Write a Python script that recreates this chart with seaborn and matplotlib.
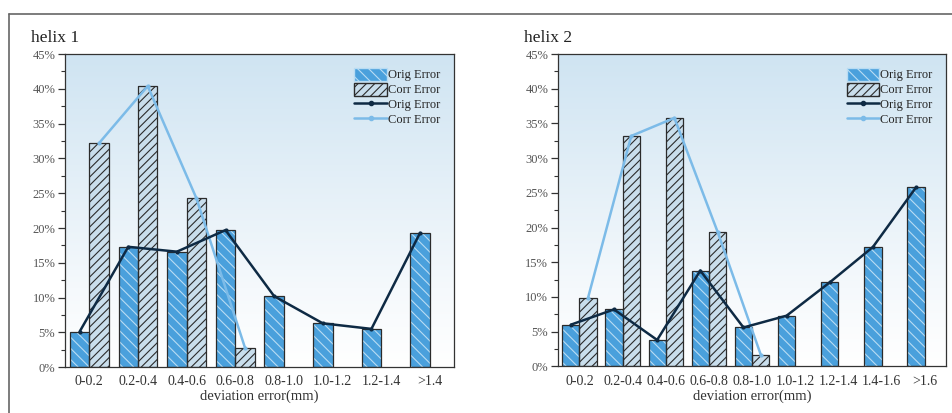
import numpy as np
import pandas as pd
import matplotlib
matplotlib.use("Agg")
import matplotlib.pyplot as plt
import seaborn as sns
from matplotlib.patches import Patch, Rectangle
from matplotlib.lines import Line2D
from matplotlib.ticker import MultipleLocator, PercentFormatter

# data (percent)
cats1 = ["0-0.2", "0.2-0.4", "0.4-0.6", "0.6-0.8", "0.8-1.0", "1.0-1.2", "1.2-1.4", ">1.4"]
orig1 = [5.1, 17.3, 16.6, 19.7, 10.2, 6.3, 5.5, 19.3]
corr1 = [32.2, 40.4, 24.3, 2.8, np.nan, np.nan, np.nan, np.nan]

cats2 = ["0-0.2", "0.2-0.4", "0.4-0.6", "0.6-0.8", "0.8-1.0", "1.0-1.2", "1.2-1.4", "1.4-1.6", ">1.6"]
orig2 = [6.0, 8.2, 3.8, 13.8, 5.6, 7.3, 12.1, 17.2, 25.8]
corr2 = [9.9, 33.2, 35.8, 19.4, 1.7, np.nan, np.nan, np.nan, np.nan]

titles = ["helix 1", "helix 2"]

sns.set_theme(style="white")
plt.rcParams["font.family"] = ["Liberation Serif", "DejaVu Serif"]
plt.rcParams["hatch.linewidth"] = 0.8

ORIG_FACE = "#4aa0dc"
ORIG_HATCH = "#b9dcf3"
CORR_FACE = "#c9deec"
EDGE = "#2b2b2b"
ORIG_LINE = "#0e2a44"
CORR_LINE = "#7cbbe8"

fig = plt.figure(figsize=(9.52, 4.13), dpi=100)
ax1 = fig.add_axes([0.0683, 0.111, 0.4087, 0.758])
ax2 = fig.add_axes([0.586, 0.113, 0.408, 0.756])

# gradient backdrop
grad = np.linspace(1, 0, 256).reshape(-1, 1)
cmap = matplotlib.colors.LinearSegmentedColormap.from_list(
    "bg", [(0, "#ffffff"), (0.25, "#f5f9fc"), (1, "#cfe4f2")])


def draw(ax, cats, orig, corr, title):
    df = pd.DataFrame({
        "cat": cats * 2,
        "val": orig + corr,
        "kind": ["Orig Error"] * len(cats) + ["Corr Error"] * len(cats),
    })
    ax.imshow(grad, cmap=cmap, aspect="auto", extent=[0, 1, 0, 1],
              transform=ax.transAxes, zorder=0)
    sns.barplot(data=df, x="cat", y="val", hue="kind", order=cats,
                hue_order=["Orig Error", "Corr Error"], width=0.8,
                ax=ax, legend=False, zorder=2)
    for cont, face, hatch, hc in zip(ax.containers,
                                     [ORIG_FACE, CORR_FACE],
                                     ["\\\\\\", "////"],
                                     [ORIG_HATCH, EDGE]):
        for p in cont:
            p.set_facecolor(face)
            p.set_hatch(hatch)
            p.set_edgecolor(hc)
            p.set_linewidth(0)
            ax.add_patch(Rectangle((p.get_x(), p.get_y()), p.get_width(),
                                   p.get_height(), fill=False, edgecolor=EDGE,
                                   linewidth=0.9, zorder=3))
    idx = np.arange(len(cats))
    sns.lineplot(x=idx - 0.2, y=orig, ax=ax, color=ORIG_LINE, lw=1.8,
                 marker="o", markersize=3, markeredgewidth=0, zorder=5)
    sns.lineplot(x=idx + 0.2, y=corr, ax=ax, color=CORR_LINE, lw=1.8,
                 marker="o", markersize=3, markeredgewidth=0, zorder=4)

    ax.set_xlim(-0.5, len(cats) - 0.5)
    ax.set_ylim(0, 45)
    ax.yaxis.set_major_locator(MultipleLocator(5))
    ax.yaxis.set_minor_locator(MultipleLocator(2.5))
    ax.yaxis.set_major_formatter(PercentFormatter(decimals=0))
    ax.tick_params(axis="y", which="major", length=5, width=0.9, color="#333333",
                   labelsize=9, labelcolor="#555555", left=True, pad=2)
    ax.tick_params(axis="y", which="minor", length=3, width=0.8, color="#333333", left=True)
    ax.tick_params(axis="x", length=0, labelsize=10, labelcolor="#333333", pad=6)
    ax.set_xlabel("deviation error(mm)", fontsize=10.5, color="#333333", labelpad=1)
    ax.set_ylabel("")
    for s in ax.spines.values():
        s.set_color("#333333")
        s.set_linewidth(0.9)

    handles = [
        Patch(facecolor=ORIG_FACE, edgecolor=ORIG_HATCH, hatch="\\\\\\", label="Orig Error"),
        Patch(facecolor=CORR_FACE, edgecolor=EDGE, hatch="////", label="Corr Error"),
        Line2D([], [], color=ORIG_LINE, lw=1.8, marker="o", markersize=3, label="Orig Error"),
        Line2D([], [], color=CORR_LINE, lw=1.8, marker="o", markersize=3, label="Corr Error"),
    ]
    ax.legend(handles=handles, loc="upper right", frameon=False, fontsize=9,
              handlelength=2.6, handleheight=1.2, handletextpad=0.1,
              labelspacing=0.1, borderaxespad=0.7)
    bb = ax.get_position()
    fig.text(bb.x0 - 0.036, bb.y1 + 0.03, title, fontsize=12.5, color="#222222")


draw(ax1, cats1, orig1, corr1, titles[0])
draw(ax2, cats2, orig2, corr2, titles[1])

# open frame round the figure (left and top)
fig.add_artist(Line2D([0.0095, 0.0095], [0, 0.966], color="#666666", lw=1.2))
fig.add_artist(Line2D([0.0095, 1.0], [0.966, 0.966], color="#666666", lw=1.2))

fig.savefig("out.png", dpi=100)
